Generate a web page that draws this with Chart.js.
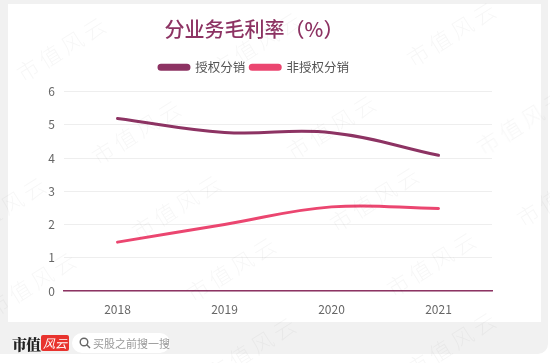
<!DOCTYPE html>
<html>
<head>
<meta charset="utf-8">
<script src="https://cdn.jsdelivr.net/npm/chart.js@4/dist/chart.umd.min.js"></script>
<style>
  html, body { margin: 0; padding: 0; background: #fff; }
  #page { position: relative; width: 550px; height: 363px; overflow: hidden; font-family: "Noto Sans CJK SC", sans-serif; }
  #bg { position: absolute; left: 0; top: 0; width: 548px; height: 354px; background: #f1f1f1; border-bottom-right-radius: 10px; }
  #card { position: absolute; left: 8px; top: 4px; width: 533px; height: 318px; background: #fff; }
  #wrap { position: absolute; left: 8px; top: 4px; width: 500px; height: 318px; }
  .wm { position: absolute; font-size: 22px; font-weight: 300; color: rgba(0,0,0,0.035); letter-spacing: 4px; transform: rotate(-32deg); transform-origin: center; white-space: nowrap; pointer-events: none; }
  #logo { position: absolute; left: 12px; top: 334px; height: 18px; display: flex; align-items: center; }
  #logo .a { font-family: "Noto Serif CJK SC", "Noto Sans CJK SC", serif; font-weight: 900; font-size: 15px; color: #222; letter-spacing: -1px; }
  #logo .b { margin-left: 1px; background: #e8332e; color: #fff; font-size: 12px; font-style: italic; padding: 0 2px; height: 16px; line-height: 16px; border-radius: 2px; }
  #search { position: absolute; left: 72px; top: 333px; width: 98px; height: 20px; background: #fff; border-radius: 10px; font-size: 11px; color: #999; line-height: 20px; }
  #search svg { position: absolute; left: 7px; top: 4px; }
  #search span { position: absolute; left: 21px; }
</style>
</head>
<body>
<div id="page">
  <div id="bg"></div>
  <div id="card"></div>
  <div id="wrap"><canvas id="c"></canvas></div>
  <div id="marks"></div>
  <div id="logo"><span class="a">市值</span><span class="b">风云</span></div>
  <div id="search">
    <svg width="12" height="12" viewBox="0 0 12 12"><circle cx="5" cy="5" r="3.8" fill="none" stroke="#666" stroke-width="1.4"/><line x1="7.8" y1="7.8" x2="11" y2="11" stroke="#666" stroke-width="1.4"/></svg>
    <span>买股之前搜一搜</span>
  </div>
</div>
<script>
const years = ['2018', '2019', '2020', '2021'];
const authorized = [5.19, 4.77, 4.76, 4.08];
const unauthorized = [1.47, 2.0, 2.53, 2.48];
const seriesNames = ['授权分销', '非授权分销'];
const seriesColors = ['#8d3363', '#eb4670'];

// watermark spots (page coords, centre of text)
const markSpots = [
  [60, 45], [255, 40], [450, 30],
  [135, 128], [330, 123], [520, 118],
  [0, 205], [175, 203], [373, 195], [560, 190],
  [30, 280], [230, 265], [430, 260],
  [250, 345], [450, 340]
];
const marks = document.getElementById('marks');
markSpots.forEach(([x, y]) => {
  const d = document.createElement('div');
  d.className = 'wm';
  d.textContent = '市值风云';
  d.style.left = (x - 50) + 'px';
  d.style.top = (y - 14) + 'px';
  marks.appendChild(d);
});

const tickFont = { family: '"Noto Sans CJK SC", sans-serif', size: 12 };

// extra room under the legend
const legendGap = {
  id: 'legendGap',
  beforeInit(chart) {
    const fit = chart.legend.fit;
    chart.legend.fit = function () {
      fit.call(this);
      this.height += 8;
    };
  }
};

new Chart(document.getElementById('c'), {
  type: 'line',
  data: {
    labels: years,
    datasets: [authorized, unauthorized].map((vals, i) => ({
      label: seriesNames[i],
      data: vals,
      borderColor: seriesColors[i],
      backgroundColor: seriesColors[i],
      borderWidth: 3,
      tension: 0.4,
      pointRadius: 0,
      borderCapStyle: 'round'
    }))
  },
  options: {
    responsive: true,
    maintainAspectRatio: false,
    animation: false,
    layout: { padding: { left: 8, right: 16, top: 0, bottom: 5 } },
    plugins: {
      title: {
        display: true,
        text: '分业务毛利率（%）',
        color: '#8d3363',
        font: { family: '"Noto Sans CJK SC", sans-serif', size: 20, weight: '500' },
        padding: { top: 13, bottom: 15 }
      },
      legend: {
        display: true,
        labels: {
          color: '#555',
          font: { family: '"Noto Sans CJK SC", sans-serif', size: 12.5 },
          boxWidth: 30,
          boxHeight: 4,
          useBorderRadius: true,
          borderRadius: 2,
          padding: 5
        }
      },
      tooltip: { enabled: false }
    },
    scales: {
      x: {
        offset: true,
        grid: { display: false },
        border: { color: '#8d3363', width: 1.5 },
        ticks: { color: '#666', font: tickFont, padding: 3 },
        afterFit: s => { s.height = 26; }
      },
      y: {
        min: 0,
        max: 6,
        ticks: { stepSize: 1, color: '#666', font: tickFont, padding: 9 },
        grid: { color: '#eeeeee', drawTicks: false },
        border: { display: false },
        afterFit: s => { s.width = 48; }
      }
    }
  },
  plugins: [legendGap]
});
</script>
</body>
</html>
